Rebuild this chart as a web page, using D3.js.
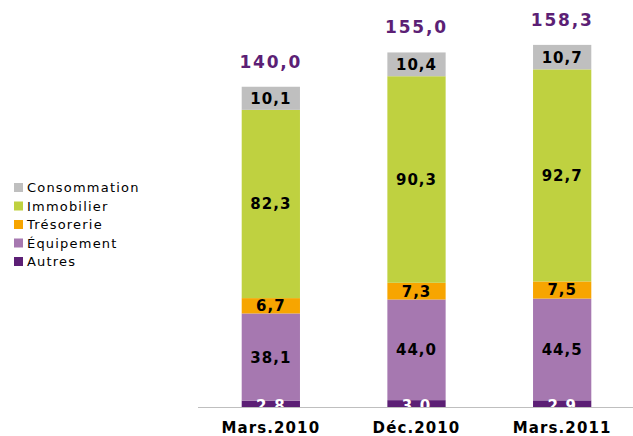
<!DOCTYPE html>
<html>
<head>
<meta charset="utf-8">
<script src="https://cdn.jsdelivr.net/npm/d3@7"></script>
<style>
  body { margin: 0; background: #fff; }
  text { font-family: Verdana, "DejaVu Sans", sans-serif; }
</style>
</head>
<body>
<div id="plot"></div>
<script>
// Data
var categories = ["Mars.2010", "Déc.2010", "Mars.2011"];
var seriesNames = ["Autres", "Équipement", "Trésorerie", "Immobilier", "Consommation"];
var autres = [2.8, 3.0, 2.9];
var equipement = [38.1, 44.0, 44.5];
var tresorerie = [6.7, 7.3, 7.5];
var immobilier = [82.3, 90.3, 92.7];
var consommation = [10.1, 10.4, 10.7];
var totals = [140.0, 155.0, 158.3];
var colors = ["#5c1f75", "#a678b0", "#f7a500", "#bfd140", "#bfbfbf"];

var width = 633, height = 436;

var svg = d3.select("#plot")
	.append("svg")
	.attr("width", width)
	.attr("height", height);

// Build table for the stack
var table = categories.map(function(c, i) {
	return {
		cat: c,
		"Autres": autres[i],
		"Équipement": equipement[i],
		"Trésorerie": tresorerie[i],
		"Immobilier": immobilier[i],
		"Consommation": consommation[i]
	};
});
var stacked = d3.stack().keys(seriesNames)(table);

var x = d3.scaleBand()
	.domain(categories)
	.range([198, 635])
	.paddingInner(0.6)
	.paddingOuter(0.3);

var y = d3.scaleLinear()
	.domain([0, 160])
	.range([407, 41]);

var color = d3.scaleOrdinal().domain(seriesNames).range(colors);

// Bars
var layers = svg.append("g")
	.selectAll("g")
	.data(stacked)
	.enter().append("g")
	.attr("fill", function(d) { return color(d.key); });

layers.selectAll("rect")
	.data(function(d) { return d; })
	.enter().append("rect")
	.attr("x", function(d) { return x(d.data.cat); })
	.attr("y", function(d) { return y(d[1]); })
	.attr("width", x.bandwidth())
	.attr("height", function(d) { return y(d[0]) - y(d[1]); });

// Segment labels (all but the bottom one)
stacked.forEach(function(layer, li) {
	if (li === 0) return;
	svg.append("g")
		.selectAll("text")
		.data(layer)
		.enter().append("text")
		.attr("x", function(d) { return x(d.data.cat) + x.bandwidth() / 2; })
		.attr("y", function(d) { return (y(d[0]) + y(d[1])) / 2 + 5.5; })
		.attr("text-anchor", "middle")
		.style("font-size", "15px")
		.style("font-weight", "bold")
		.style("letter-spacing", "1px")
		.style("fill", "#000")
		.text(function(d) { return d3.format(".1f")(d[1] - d[0]).replace(".", ","); });
});

// Bottom labels (white, cut by the axis)
svg.append("clipPath").attr("id", "clipAxis")
	.append("rect").attr("x", 0).attr("y", 0).attr("width", width).attr("height", y(0));
svg.append("g")
	.attr("clip-path", "url(#clipAxis)")
	.selectAll("text")
	.data(stacked[0])
	.enter().append("text")
	.attr("x", function(d) { return x(d.data.cat) + x.bandwidth() / 2; })
	.attr("y", y(0) + 4)
	.attr("text-anchor", "middle")
	.style("font-size", "15px")
	.style("font-weight", "bold")
	.style("letter-spacing", "1px")
	.style("fill", "#fff")
	.text(function(d) { return d3.format(".1f")(d[1] - d[0]); });

// Axis line
svg.append("line")
	.attr("x1", 198).attr("x2", width)
	.attr("y1", y(0) + 0.5).attr("y2", y(0) + 0.5)
	.style("stroke", "#bfbfbf")
	.style("stroke-width", 1.2);

// Category labels
svg.append("g")
	.selectAll("text")
	.data(categories)
	.enter().append("text")
	.attr("x", function(d) { return x(d) + x.bandwidth() / 2; })
	.attr("y", 433)
	.attr("text-anchor", "middle")
	.style("font-size", "15px")
	.style("font-weight", "bold")
	.style("letter-spacing", "1.1px")
	.style("fill", "#000")
	.text(function(d) { return d; });

// Totals
svg.append("g")
	.selectAll("text")
	.data(totals)
	.enter().append("text")
	.attr("x", function(d, i) { return x(categories[i]) + x.bandwidth() / 2; })
	.attr("y", function(d) { return y(d) - 19; })
	.attr("text-anchor", "middle")
	.style("font-size", "17px")
	.style("font-weight", "bold")
	.style("letter-spacing", "1.8px")
	.style("fill", "#5c1f75")
	.text(function(d) { return d3.format(".1f")(d).replace(".", ","); });

// Legend
var legendOrder = seriesNames.slice().reverse();
var legend = svg.append("g")
	.selectAll("g")
	.data(legendOrder)
	.enter().append("g")
	.attr("transform", function(d, i) { return "translate(14," + (183 + i * 18.5) + ")"; });

legend.append("rect")
	.attr("width", 9)
	.attr("height", 9)
	.style("fill", function(d) { return color(d); });
legend.append("text")
	.attr("x", 13)
	.attr("y", 9)
	.style("font-size", "13px")
	.style("letter-spacing", "1.2px")
	.style("fill", "#000")
	.text(function(d) { return d; });
</script>
</body>
</html>
